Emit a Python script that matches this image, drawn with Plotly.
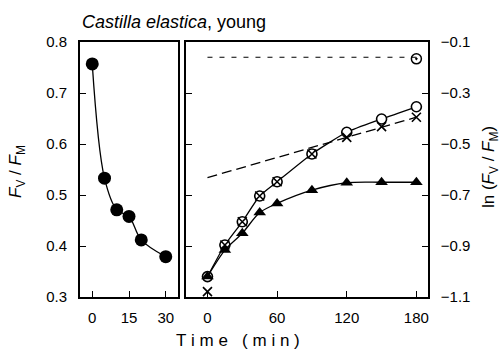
import plotly.graph_objects as go

# ---- data ----
# Left panel: Fv/Fm during dark recovery
left_t = [0, 5, 10, 15, 20, 30]
left_fvfm = [0.757, 0.533, 0.471, 0.458, 0.412, 0.379]

# Right panel: ln(Fv/Fm) vs time
right_t = [0, 15, 30, 45, 60, 90, 120, 150, 180]
circle_ln = [-1.020, -0.896, -0.805, -0.704, -0.648, -0.539, -0.454, -0.402, -0.354]
triangle_ln = [-1.020, -0.916, -0.850, -0.769, -0.733, -0.681, -0.652, -0.650, -0.650]
cross_ln = [-1.079, -0.896, -0.805, -0.704, -0.648, -0.539, -0.474, -0.432, -0.395]

fit_t = [0, 180]
fit_ln = [-0.632, -0.395]

ref_t = [0, 180]
ref_ln = [-0.160, -0.160]
ref_point_t = [180]
ref_point_ln = [-0.166]

left_xticks = [0, 15, 30]
left_yticks = [0.3, 0.4, 0.5, 0.6, 0.7, 0.8]
right_xticks = [0, 60, 120, 180]
right_yticks = [-1.1, -0.9, -0.7, -0.5, -0.3, -0.1]

FONT = "Liberation Sans, Arial, sans-serif"
W, H = 501, 352

def px_x(p):
    return p / W

def px_y(p):
    return 1 - p / H

fig = go.Figure()

# left panel
fig.add_trace(go.Scatter(x=left_t, y=left_fvfm, mode="lines+markers",
                         line=dict(color="black", width=1.3, shape="spline", smoothing=1.0),
                         marker=dict(symbol="circle", size=13, color="black"),
                         xaxis="x", yaxis="y", showlegend=False))

# right panel
fig.add_trace(go.Scatter(x=ref_t, y=ref_ln, mode="lines",
                         line=dict(color="black", width=1.1, dash="5px,7px"),
                         xaxis="x2", yaxis="y2", showlegend=False))
fig.add_trace(go.Scatter(x=ref_point_t, y=ref_point_ln, mode="markers",
                         marker=dict(symbol="circle-open-dot", size=10, color="black",
                                     line=dict(width=1.5, color="black")),
                         xaxis="x2", yaxis="y2", showlegend=False))
fig.add_trace(go.Scatter(x=fit_t, y=fit_ln, mode="lines",
                         line=dict(color="black", width=1.3, dash="10px,5px"),
                         xaxis="x2", yaxis="y2", showlegend=False))
fig.add_trace(go.Scatter(x=right_t, y=circle_ln, mode="lines+markers",
                         line=dict(color="black", width=1.3, shape="spline", smoothing=0.6),
                         marker=dict(symbol="circle", size=10, color="white",
                                     line=dict(width=1.6, color="black")),
                         xaxis="x2", yaxis="y2", showlegend=False))
fig.add_trace(go.Scatter(x=right_t, y=triangle_ln, mode="lines+markers",
                         line=dict(color="black", width=1.3, shape="spline", smoothing=0.8),
                         marker=dict(symbol="triangle-up", size=11, color="black"),
                         xaxis="x2", yaxis="y2", showlegend=False))
fig.add_trace(go.Scatter(x=right_t, y=cross_ln, mode="markers",
                         marker=dict(symbol="x-thin-open", size=9, color="black",
                                     line=dict(width=1.6, color="black")),
                         xaxis="x2", yaxis="y2", showlegend=False))

axis_common = dict(showgrid=False, zeroline=False, showline=True, linecolor="black",
                   linewidth=1.7, ticks="inside", ticklen=6, tickwidth=1.3, tickcolor="black",
                   automargin=False,
                   tickfont=dict(family=FONT, size=15, color="black"))

y_dom = [px_y(297), px_y(42)]

fig.update_layout(
    width=W, height=H, margin=dict(l=0, r=0, t=0, b=0),
    paper_bgcolor="white", plot_bgcolor="white",
    xaxis=dict(domain=[px_x(80), px_x(178)], range=[-5, 35], tickvals=left_xticks,
               mirror=True, anchor="y", ticklabelstandoff=6, **axis_common),
    yaxis=dict(domain=y_dom, range=[0.3, 0.8], tickvals=left_yticks,
               tickformat=".1f", mirror=True, anchor="x", ticklabelstandoff=8, **axis_common),
    xaxis2=dict(domain=[px_x(186), px_x(428)], range=[-18.5, 190], tickvals=right_xticks,
                mirror=True, anchor="y2", ticklabelstandoff=6, **axis_common),
    yaxis2=dict(domain=y_dom, range=[-1.1, -0.1], tickvals=right_yticks,
                tickformat=".1f", side="right", mirror="ticks", anchor="x2",
                ticklabelstandoff=8, **axis_common),
)

annos = [
    dict(text="<i>Castilla elastica</i>, young", x=px_x(80), y=px_y(22),
         xanchor="left", yanchor="middle", font=dict(size=18)),
    dict(text="T\u00a0i\u00a0m\u00a0e\u00a0\u00a0\u00a0(\u00a0m\u00a0i\u00a0n\u00a0)",
         x=px_x(238), y=px_y(340), xanchor="center", yanchor="middle", font=dict(size=17)),
    dict(text="<i>F</i><sub>V</sub> / <i>F</i><sub>M</sub>", x=px_x(17), y=px_y(172),
         xanchor="center", yanchor="middle", textangle=-90, font=dict(size=17)),
    dict(text="ln (<i>F</i><sub>V</sub> / <i>F</i><sub>M</sub>)", x=px_x(490), y=px_y(167),
         xanchor="center", yanchor="middle", textangle=-90, font=dict(size=17)),
]
for a in annos:
    a.update(xref="paper", yref="paper", showarrow=False)
    a["font"].update(family=FONT, color="black")
    fig.add_annotation(**a)

fig.write_html("out.html")
